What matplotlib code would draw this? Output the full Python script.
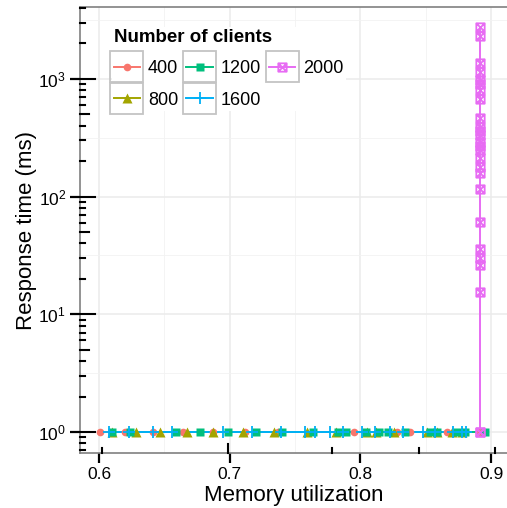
import numpy as np
import matplotlib
matplotlib.use("Agg")
import matplotlib.pyplot as plt
from matplotlib.path import Path
from matplotlib.markers import MarkerStyle
from matplotlib.lines import Line2D
from matplotlib.patches import Rectangle
import matplotlib.transforms as mtransforms

plt.rcParams['font.family'] = ['Liberation Sans', 'DejaVu Sans']
plt.rcParams['mathtext.fontset'] = 'custom'
plt.rcParams['mathtext.rm'] = 'Liberation Sans'
plt.rcParams['mathtext.it'] = 'Liberation Sans'

# данні
clients = ['400', '800', '1200', '1600', '2000']
colors = ['#F8766D', '#A3A500', '#00BF7D', '#00B0F6', '#E76BF3']

mem_400 = [0.601, 0.620, 0.641, 0.664, 0.687, 0.712, 0.737, 0.795, 0.828, 0.838, 0.866, 0.891]
rt_400 = [1] * len(mem_400)

mem_800 = [0.610, 0.628, 0.647, 0.667, 0.687, 0.710, 0.734, 0.759, 0.781, 0.805, 0.812,
           0.826, 0.851, 0.859, 0.870, 0.878]
rt_800 = [1] * len(mem_800)

mem_1200 = [0.610, 0.624, 0.659, 0.677, 0.699, 0.720, 0.740, 0.764, 0.783, 0.789, 0.804,
            0.814, 0.821, 0.834, 0.853, 0.859, 0.874, 0.880, 0.895]
rt_1200 = [1] * len(mem_1200)

mem_1600 = [0.608, 0.623, 0.641, 0.656, 0.695, 0.717, 0.739, 0.758, 0.765, 0.777, 0.787,
            0.801, 0.811, 0.823, 0.833, 0.848, 0.857, 0.871, 0.878, 0.881]
rt_1600 = [1] * len(mem_1600)

rt_2000 = [1, 1, 15.6, 26, 30, 36, 61, 115, 158, 180, 212, 249, 270, 293, 334, 360, 388,
           463, 671, 805, 900, 979, 1151, 1357, 2313, 2776]
mem_2000 = [0.8915] * len(rt_2000)

series = [(mem_400, rt_400), (mem_800, rt_800), (mem_1200, rt_1200),
          (mem_1600, rt_1600), (mem_2000, rt_2000)]

# маркер "квадрат з хрестиком" (shape 7 у ggplot)
sq_x = Path([(-1, -1), (1, -1), (1, 1), (-1, 1), (-1, -1), (-1, -1), (1, 1), (-1, 1), (1, -1)],
            [Path.MOVETO, Path.LINETO, Path.LINETO, Path.LINETO, Path.CLOSEPOLY,
             Path.MOVETO, Path.LINETO, Path.MOVETO, Path.LINETO])
markers = ['o', '^', 's', '+', MarkerStyle(sq_x)]
msizes = [5.5, 6.5, 5.5, 9, 6]

fig = plt.figure(figsize=(5.07, 5.08), dpi=100)
ax = fig.add_axes([80 / 507, 55 / 508, 427 / 507, 446 / 508])

ax.set_yscale('log')
ax.set_xlim(0.5855, 0.9122)
ax.set_ylim(10 ** -0.178, 10 ** 3.611)

# сітка
for v in [0.6, 0.7, 0.8, 0.9]:
    ax.axvline(v, color='#ebebeb', lw=1.1, zorder=0)
for v in [0.65, 0.75, 0.85]:
    ax.axvline(v, color='#f2f2f2', lw=0.6, zorder=0)
for k in range(0, 4):
    ax.axhline(10 ** k, color='#ebebeb', lw=1.1, zorder=0)
for k in range(-1, 4):
    ax.axhline(10 ** (k + 0.5), color='#f2f2f2', lw=0.6, zorder=0)

# лінії, потім точки
for (xs, ys), c in zip(series, colors):
    order = np.lexsort((ys, xs))
    ax.plot(np.array(xs)[order], np.array(ys)[order], color=c, lw=1.4, zorder=2)
for (xs, ys), c, m, ms in zip(series, colors, markers, msizes):
    if m == '+' or not isinstance(m, str):
        ax.plot(xs, ys, ls='none', marker=m, ms=ms, mec=c, mfc='none', mew=1.3, zorder=3)
    else:
        ax.plot(xs, ys, ls='none', marker=m, ms=ms, color=c, mec='none', zorder=3)

# осі
for s in ['top', 'right']:
    ax.spines[s].set_visible(False)
ax.plot([0, 1], [1, 1], transform=ax.transAxes, color='#808080', lw=1.2, clip_on=False)
ax.spines['left'].set_color('#808080')
ax.spines['bottom'].set_color('#808080')
ax.spines['left'].set_linewidth(1.2)
ax.spines['bottom'].set_linewidth(1.2)

ax.set_xticks([0.6, 0.7, 0.8, 0.9])
ax.set_xticklabels(['0.6', '0.7', '0.8', '0.9'])
ax.set_yticks([1, 10, 100, 1000])
ax.set_yticklabels([r'$10^{0}$', r'$10^{1}$', r'$10^{2}$', r'$10^{3}$'])
ax.yaxis.set_minor_locator(matplotlib.ticker.NullLocator())
ax.tick_params(axis='both', which='major', direction='out', length=7, width=1.6,
               color='black', labelsize=12.5, labelcolor='black', pad=3)

# логарифмічні засічки (annotation_logticks)
W = 427.0
H = 446.0
ty = mtransforms.blended_transform_factory(ax.transAxes, ax.transData)
for k in range(-1, 4):
    for m in range(1, 10):
        v = m * 10 ** k
        if v < 10 ** -0.178 or v > 10 ** 3.611:
            continue
        L = 15 if m == 1 else (9 if m == 5 else 5)
        ax.plot([0, L / W], [v, v], transform=ty, color='black', lw=1.5, clip_on=False, zorder=4)
tx = mtransforms.blended_transform_factory(ax.transData, ax.transAxes)
for m in range(4, 9):
    v = np.log10(m)
    L = 9 if m == 5 else 5
    ax.plot([v, v], [0, L / H], transform=tx, color='black', lw=1.5, clip_on=False, zorder=4)

ax.set_xlabel('Memory utilization', fontsize=16, labelpad=2)
ax.set_ylabel('Response time (ms)', fontsize=16, labelpad=1)

# легенда
handles = []
for c, m, ms in zip(colors, markers, msizes):
    if m == '+' or not isinstance(m, str):
        h = Line2D([], [], color=c, lw=1.4, marker=m, ms=ms, mec=c, mfc='none', mew=1.3)
    else:
        h = Line2D([], [], color=c, lw=1.4, marker=m, ms=ms, mec='none', mfc=c)
    handles.append(h)
leg = ax.legend(handles, clients, title='Number of clients', ncol=3, loc='upper left',
                bbox_to_anchor=(112 / 507, 1 - 27 / 508), bbox_transform=fig.transFigure,
                fontsize=13, title_fontproperties={'weight': 'bold', 'size': 13.5},
                alignment='left', frameon=True, fancybox=False, edgecolor='none',
                facecolor='white', framealpha=1, borderpad=0.1, handlelength=1.45,
                handletextpad=0.45, columnspacing=0.45, labelspacing=0.8, borderaxespad=0)
leg.get_title().set_color('black')
leg.set_zorder(10)

fig.canvas.draw()
inv = fig.transFigure.inverted()
for h in leg.legend_handles:
    pts = h.get_transform().transform(h.get_xydata())
    cx = pts[:, 0].mean()
    cy = pts[:, 1].mean()
    p0 = inv.transform((cx - 16.5, cy - 15.5))
    p1 = inv.transform((cx + 16.5, cy + 15.5))
    fig.patches.append(Rectangle(p0, p1[0] - p0[0], p1[1] - p0[1], transform=fig.transFigure,
                                 fill=False, edgecolor='#c4c4c4', lw=1.3, figure=fig, zorder=20))

fig.savefig('out.png', dpi=100)
